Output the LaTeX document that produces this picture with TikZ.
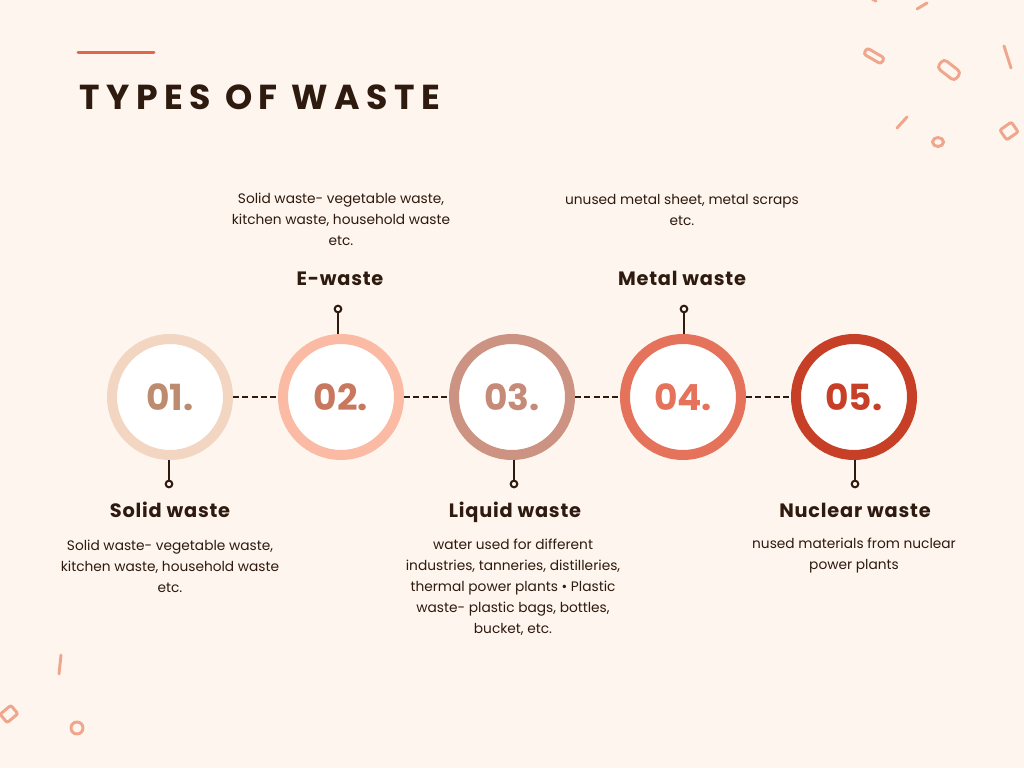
\documentclass[tikz,border=0pt]{standalone}
\usepackage{fontspec}
\setmainfont{Poppins}
\usepackage{xcolor}
\usetikzlibrary{positioning}
\definecolor{cream}{HTML}{FDF5EE}
\definecolor{ink}{HTML}{2E1A0E}
\definecolor{coral}{HTML}{E0664E}
\definecolor{confetti}{HTML}{EFA68C}
\definecolor{ringA}{HTML}{F2D6C2}
\definecolor{numA}{HTML}{BC8B70}
\definecolor{ringB}{HTML}{FBBAA4}
\definecolor{numB}{HTML}{C97860}
\definecolor{ringC}{HTML}{CC9282}
\definecolor{numC}{HTML}{C58A78}
\definecolor{ringD}{HTML}{E5735C}
\definecolor{ringE}{HTML}{C73F27}
\tikzset{
  stage/.style={
    circle, draw=#1, fill=white, line width=7.5pt,
    minimum size=87pt, inner sep=0pt,
    font=\fontsize{27}{27}\selectfont\bfseries
  },
  heading/.style={
    font=\fontsize{14.5}{16}\selectfont\bfseries\addfontfeature{LetterSpace=4},
    text=ink, inner sep=0pt, anchor=base
  },
  blurb/.style={
    font=\fontsize{10.3}{15.75}\selectfont, text=ink,
    align=center, inner sep=0pt
  },
  pin/.style={
    circle, draw=ink, fill=cream, line width=1.5pt,
    minimum size=5pt, inner sep=0pt
  },
  stem/.style={draw=ink, line width=1.5pt},
  link/.style={draw=ink, line width=1.6pt, dash pattern=on 4.5pt off 2.5pt},
  bit/.style={draw=confetti, line width=2.2pt, line cap=round},
}

\begin{document}
\begin{tikzpicture}[x=0.75pt, y=0.75pt]
  \useasboundingbox (0,0) rectangle (1024,768);
  \fill[cream] (0,0) rectangle (1024,768);
  % confetti
  \begin{scope}
    \clip (0,0) rectangle (1024,768);
    \draw[bit] (872,769) -- (876,767);
    \draw[bit] (917,759) -- (927,765);
    \draw[bit, rounded corners=2pt, shift={(874,712)}, rotate=-30] (-10,-3.5) rectangle (10,3.5);
    \draw[bit, rounded corners=3pt, shift={(949,698)}, rotate=-38] (-11,-5.5) rectangle (11,5.5);
    \draw[bit] (1004,722) -- (1011,700);
    \draw[bit] (897,640) -- (907,651);
    \draw[bit] (938,626) ellipse (5.5 and 4.5);
    \draw[bit, rounded corners=1.5pt, shift={(1009,637)}, rotate=35] (-7,-6) rectangle (7,6);
    \draw[bit] (61,113) -- (59,94);
    \draw[bit, rounded corners=1.5pt, shift={(9,54)}, rotate=40] (-7,-5.5) rectangle (7,5.5);
    \draw[bit] (77,40) circle (6);
  \end{scope}
  % title
  \draw[coral, line width=2.25pt, line cap=round] (78,715) -- (154,715);
  \node[anchor=west, inner sep=0pt, text=ink,
        font=\fontsize{26}{26}\selectfont\bfseries\addfontfeature{LetterSpace=19}] (title) at (79,671) {TYPES OF WASTE};
  % stages
  \node[stage=ringA, text=numA] (c1) at (170,371) {01.};
  \node[stage=ringB, text=numB] (c2) at (341,371) {02.};
  \node[stage=ringC, text=numC] (c3) at (512,371) {03.};
  \node[stage=ringD, text=ringD] (c4) at (683,371) {04.};
  \node[stage=ringE, text=ringE] (c5) at (854,371) {05.};
  \draw[link] (c1) -- (c2);
  \draw[link] (c2) -- (c3);
  \draw[link] (c3) -- (c4);
  \draw[link] (c4) -- (c5);
  % pins
  \node[pin] (d1) at (169,284) {};
  \node[pin] (d2) at (338,459) {};
  \node[pin] (d3) at (514,284) {};
  \node[pin] (d4) at (684,459) {};
  \node[pin] (d5) at (855,284) {};
  \draw[stem] (c1.south -| d1) -- (d1);
  \draw[stem] (c2.north -| d2) -- (d2);
  \draw[stem] (c3.south -| d3) -- (d3);
  \draw[stem] (c4.north -| d4) -- (d4);
  \draw[stem] (c5.south -| d5) -- (d5);
  % labels
  \node[heading] (h1) at (170,251) {Solid waste};
  \node[heading] (h2) at (340,482) {E-waste};
  \node[heading] (h3) at (515,251) {Liquid waste};
  \node[heading] (h4) at (682,482) {Metal waste};
  \node[heading] (h5) at (855,251) {Nuclear waste};
  \node[blurb] (t1) at (170,202) {Solid waste- vegetable waste,\\kitchen waste, household waste\\etc.};
  \node[blurb] (t2) at (341,549) {Solid waste- vegetable waste,\\kitchen waste, household waste\\etc.};
  \node[blurb] (t3) at (513,181) {water used for different\\industries, tanneries, distilleries,\\thermal power plants • Plastic\\waste- plastic bags, bottles,\\bucket, etc.};
  \node[blurb] (t4) at (682,558) {unused metal sheet, metal scraps\\etc.};
  \node[blurb] (t5) at (854,212) {nused materials from nuclear\\power plants};
\end{tikzpicture}
\end{document}
